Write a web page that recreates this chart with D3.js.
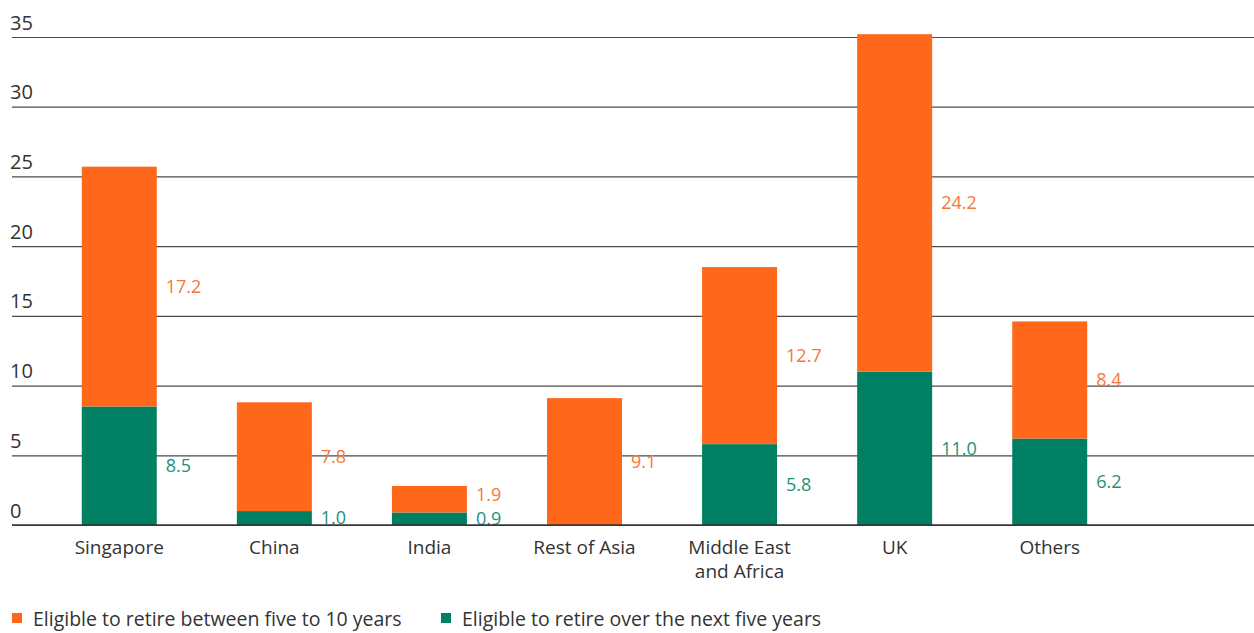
<!DOCTYPE html>
<html>
<head>
<meta charset="utf-8">
<script src="https://cdn.jsdelivr.net/npm/d3@7"></script>
<style>
  body { margin: 0; background: #fff; }
  svg text { font-family: "Open Sans", "Noto Sans", sans-serif; }
</style>
</head>
<body>
<div id="chart"></div>
<script>
const categories = ['Singapore', 'China', 'India', 'Rest of Asia', 'Middle East\nand Africa', 'UK', 'Others'];
const nextFive = [8.5, 1.0, 0.9, null, 5.8, 11.0, 6.2];
const fiveToTen = [17.2, 7.8, 1.9, 9.1, 12.7, 24.2, 8.4];
const yTicks = [0, 5, 10, 15, 20, 25, 30, 35];
const seriesNames = ['Eligible to retire between five to 10 years', 'Eligible to retire over the next five years'];

const width = 1254, height = 633;
const orange = '#ff671b', green = '#007f62';
const orangeText = '#f7773a', greenText = '#21927a';

const svg = d3.select('#chart').append('svg')
  .attr('width', width)
  .attr('height', height);

const x = d3.scaleBand()
  .domain(categories)
  .range([12, 1157])
  .paddingInner(0.5165)
  .paddingOuter(0.45);

const y = d3.scaleLinear()
  .domain([0, 35])
  .range([525, 37]);

// gridlines + tick labels
const axis = svg.append('g')
  .attr('transform', 'translate(12,0)')
  .call(d3.axisRight(y).tickValues(yTicks).tickSize(width - 12).tickFormat(d => d));
axis.select('.domain').remove();
axis.selectAll('.tick line').attr('stroke', '#4a4a4a').attr('stroke-width', 1.2);
axis.selectAll('.tick text')
  .attr('x', -2)
  .attr('dy', -8)
  .attr('text-anchor', 'start')
  .attr('fill', '#333')
  .attr('font-size', 20);

// bars
const rows = categories.map((c, i) => ({ c, g: nextFive[i] || 0, o: fiveToTen[i], gv: nextFive[i] }));

svg.selectAll('.bar-g')
  .data(rows.filter(d => d.g > 0))
  .enter().append('rect')
  .attr('x', d => x(d.c))
  .attr('width', x.bandwidth())
  .attr('y', d => y(d.g))
  .attr('height', d => y(0) - y(d.g))
  .attr('fill', green);

svg.selectAll('.bar-o')
  .data(rows)
  .enter().append('rect')
  .attr('x', d => x(d.c))
  .attr('width', x.bandwidth())
  .attr('y', d => y(d.g + d.o))
  .attr('height', d => y(d.g) - y(d.g + d.o))
  .attr('fill', orange);

// value labels (keep orange label clear of the green one)
const greenY = d => y(d.g / 2);
const orangeY = d => {
  const mid = y(d.g + d.o / 2);
  return d.gv != null ? Math.min(mid, greenY(d) - 24) : mid;
};

svg.selectAll('.lab-o')
  .data(rows)
  .enter().append('text')
  .attr('x', d => x(d.c) + x.bandwidth() + 9)
  .attr('y', orangeY)
  .attr('dy', '0.35em')
  .attr('font-size', 18)
  .attr('fill', orangeText)
  .text(d => d.o.toFixed(1));

svg.selectAll('.lab-g')
  .data(rows.filter(d => d.gv != null))
  .enter().append('text')
  .attr('x', d => x(d.c) + x.bandwidth() + 9)
  .attr('y', greenY)
  .attr('dy', '0.35em')
  .attr('font-size', 18)
  .attr('fill', greenText)
  .text(d => d.gv.toFixed(1));

// zero baseline on top
svg.append('line')
  .attr('x1', 12).attr('x2', width)
  .attr('y1', y(0)).attr('y2', y(0))
  .attr('stroke', '#333').attr('stroke-width', 1.5);

// category labels
const cat = svg.selectAll('.cat')
  .data(categories)
  .enter().append('text')
  .attr('x', d => x(d) + x.bandwidth() / 2)
  .attr('y', 554)
  .attr('text-anchor', 'middle')
  .attr('font-size', 19)
  .attr('fill', '#333');
cat.each(function(d) {
  d.split('\n').forEach((line, i) => {
    d3.select(this).append('tspan')
      .attr('x', x(d) + x.bandwidth() / 2)
      .attr('dy', i === 0 ? 0 : 24)
      .text(line);
  });
});

// legend
const legend = svg.append('g').attr('transform', 'translate(12,619)');
const legX = [0, 429];
seriesNames.forEach((name, i) => {
  const g = legend.append('g').attr('transform', `translate(${legX[i]},0)`);
  g.append('rect').attr('x', 0).attr('y', -6).attr('width', 10).attr('height', 10)
    .attr('fill', i === 0 ? orange : green);
  g.append('text').attr('x', 21).attr('y', 0).attr('dy', '0.35em')
    .attr('font-size', 19.5).attr('fill', '#333').text(name);
});
</script>
</body>
</html>
